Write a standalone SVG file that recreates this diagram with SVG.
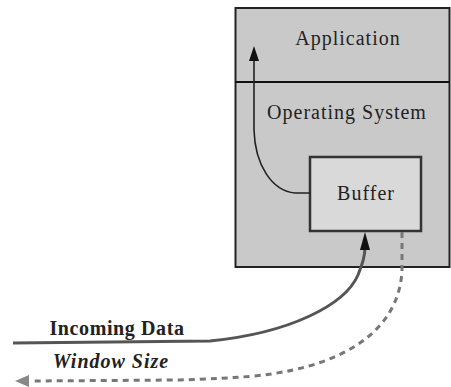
<svg xmlns="http://www.w3.org/2000/svg" width="451" height="387" viewBox="0 0 451 387">
<defs>
<style>
.lbl{font-family:"Liberation Serif","Times New Roman",serif;font-size:20px;fill:#222;letter-spacing:1px}
.bold{font-weight:bold}
.ital{font-style:italic;font-weight:bold}
.line{fill:none;stroke-linecap:butt}
</style>
</defs>
<rect width="451" height="387" fill="#ffffff"/>
<g id="host">
<rect x="235.5" y="8" width="214" height="259" fill="#c9c9c9" stroke="#222" stroke-width="2"/>
<line x1="235.5" y1="82" x2="449.5" y2="82" stroke="#111" stroke-width="2"/>
<text class="lbl" x="348" y="45" text-anchor="middle">Application</text>
<text class="lbl" x="347" y="119" text-anchor="middle">Operating System</text>
</g>
<g id="buffer">
<rect x="310" y="157" width="111" height="74" fill="#d9d9d9" stroke="#333" stroke-width="2.5"/>
<text class="lbl" x="366" y="200" text-anchor="middle">Buffer</text>
</g>
<g id="connectors">
<path class="line" d="M310,193 L295,193 C272,191 255,165 254,130 L254,58" stroke="#222" stroke-width="1.6"/>
<polygon points="254,46 249,61 259,61" fill="#111"/>
<path class="line" d="M13,343 L210,341 C290,333 345,305 358,275 C363,262 365,256 365,246" stroke="#555" stroke-width="3"/>
<polygon points="365,232 360,250 370,250" fill="#111"/>
<path class="line" d="M402,232 L402,270 C400,320 360,365 255,376 C230,378 210,379 180,380 L30,381" stroke="#777" stroke-width="3" stroke-dasharray="6 5"/>
<polygon points="15,381 29,375 29,387" fill="#888"/>
</g>
<g id="labels">
<text class="lbl bold" x="117" y="335" text-anchor="middle" style="letter-spacing:0.6px">Incoming Data</text>
<text class="lbl ital" x="111" y="368" text-anchor="middle">Window Size</text>
</g>
</svg>
